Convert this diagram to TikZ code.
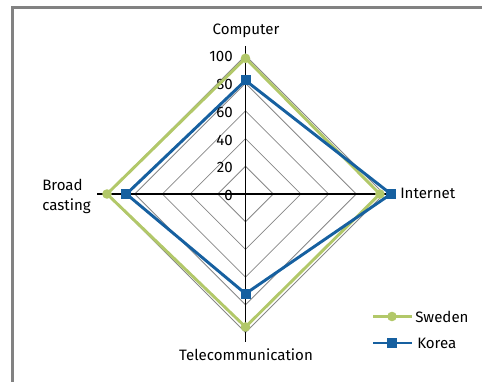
\documentclass[tikz,border=0pt]{standalone}
\usepackage{fontspec}
\setmainfont{Fira Sans}
\definecolor{swe}{RGB}{178,200,105}
\definecolor{kor}{RGB}{22,96,160}
\definecolor{gridc}{RGB}{135,135,135}
\definecolor{framec}{RGB}{130,130,130}
\begin{document}
\begin{tikzpicture}[x=0.75pt,y=-0.75pt,
  frame/.style={draw=framec,line width=2.2pt},
  gridline/.style={draw=gridc,line width=0.6pt},
  axisline/.style={draw=black,line width=0.9pt},
  swel/.style={draw=swe,line width=2.2pt,line join=miter},
  korl/.style={draw=kor,line width=2.2pt,line join=miter},
  swedot/.style={circle,fill=swe,inner sep=0pt,minimum size=7.2pt},
  korsq/.style={rectangle,fill=kor,inner sep=0pt,minimum size=7.5pt},
  lab/.style={inner sep=0pt,font=\fontsize{11.3}{15}\selectfont},
  tick/.style={inner sep=0pt,anchor=east,font=\fontsize{11.3}{12}\selectfont}]
\useasboundingbox (0,0) rectangle (482,382);
\draw[frame] (12.5,382) -- (12.5,7.5) -- (482,7.5);
\begin{scope}[shift={(245.5,194)},x=1.03875pt,y=1.03875pt]
  \foreach \r in {20,40,60,80,100}
    \draw[gridline] (0,\r) -- (\r,0) -- (0,-\r) -- (-\r,0) -- cycle;
  \coordinate (top) at (0,107);
  \coordinate (bot) at (0,-107);
  \coordinate (lft) at (-107,0);
  \coordinate (rgt) at (107,0);
  \draw[axisline] (top) -- (bot);
  \draw[axisline] (lft) -- (rgt);
  \foreach \v in {0,20,40,60,80,100}
    \node[tick] (t\v) at (-9,\v-1) {\v};
  \coordinate (s1) at (0,98);
  \coordinate (s2) at (97,0);
  \coordinate (s3) at (0,-96);
  \coordinate (s4) at (-100,0);
  \coordinate (k1) at (0,82);
  \coordinate (k2) at (105,0);
  \coordinate (k3) at (0,-72);
  \coordinate (k4) at (-86,0);
  \draw[swel] (s1) -- (s2) -- (s3) -- (s4) -- cycle;
  \foreach \p in {s1,s2,s3,s4} \node[swedot] at (\p) {};
  \draw[korl] (k1) -- (k2) -- (k3) -- (k4) -- cycle;
  \foreach \p in {k1,k2,k3,k4} \node[korsq] at (\p) {};
\end{scope}
\node[lab] (comp) at (246,31) {Computer};
\node[lab,anchor=west] (inet) at (400,193) {Internet};
\node[lab,anchor=west,align=left] (broad) at (42,196) {Broad\\casting};
\node[lab] (tele) at (246,355) {Telecommunication};
% legend
\coordinate (la1) at (373,316.5);
\coordinate (lb1) at (412,316.5);
\coordinate (la2) at (373,343);
\coordinate (lb2) at (412,343);
\draw[swel] (la1) -- (lb1);
\node[swedot] (ld1) at (392,316.5) {};
\draw[korl] (la2) -- (lb2);
\node[korsq] (ld2) at (392,343) {};
\node[lab,anchor=west] (lswe) at (415,316.5) {Sweden};
\node[lab,anchor=west] (lkor) at (417,343) {Korea};
\end{tikzpicture}
\end{document}
